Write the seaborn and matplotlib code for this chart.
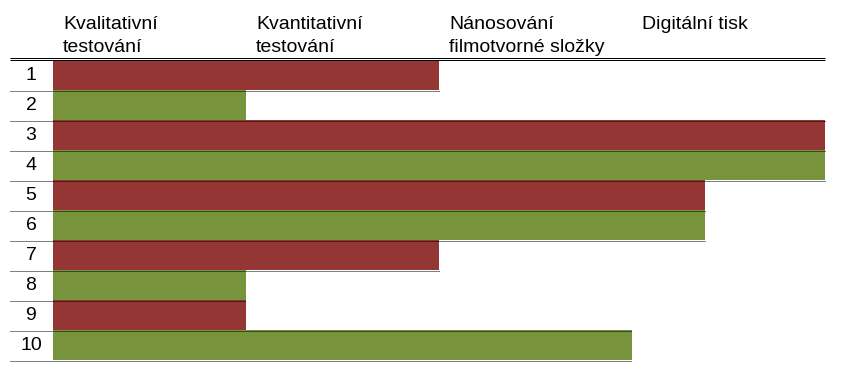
import matplotlib
matplotlib.use("Agg")
import matplotlib.pyplot as plt
import seaborn as sns
import pandas as pd

# ---- data ----
rows = ["1", "2", "3", "4", "5", "6", "7", "8", "9", "10"]
values = [2, 1, 4, 4, 3.38, 3.38, 2, 1, 1, 3]
row_colors = ["#943634", "#77933C", "#943634", "#77933C", "#943634",
              "#77933C", "#943634", "#77933C", "#943634", "#77933C"]
headers = ["Kvalitativní\ntestování", "Kvantitativní\ntestování",
           "Nánosování\nfilmotvorné složky", "Digitální tisk"]

sns.set_style("white")
plt.rcParams["font.family"] = ["Liberation Sans", "DejaVu Sans"]

W, H = 842, 374
fig = plt.figure(figsize=(W / 100, H / 100), dpi=100)
left_px, right_px, top_px, bot_px = 53, 825, 60, 360
ax = fig.add_axes([left_px / W, 1 - bot_px / H,
                   (right_px - left_px) / W, (bot_px - top_px) / H])

df = pd.DataFrame({"row": rows, "value": values})
sns.barplot(data=df, x="value", y="row", hue="row", palette=row_colors,
            orient="h", width=1.0, saturation=1, legend=False,
            linewidth=0, edgecolor="none", ax=ax)

ax.set_xlim(0, 4)
ax.set_ylim(len(rows) - 0.5, -0.5)
for s in ax.spines.values():
    s.set_visible(False)
ax.set_xticks([])
ax.set_yticks([])
ax.set_xlabel("")
ax.set_ylabel("")

px_per_unit = (right_px - left_px) / 4.0
x_start = (10 - left_px) / px_per_unit
x_num = (31 - left_px) / px_per_unit
row_px = (bot_px - top_px) / len(rows)
half_px = 0.5 / row_px

# row numbers
for i, r in enumerate(rows):
    ax.text(x_num, i, r, ha="center", va="center", fontsize=14,
            color="black", clip_on=False)

# dotted row separators
for i in range(len(rows)):
    nxt = values[i + 1] if i + 1 < len(rows) else 0
    xend = max(values[i], nxt)
    yy = i + 0.5 + half_px
    ax.plot([x_start, xend], [yy, yy], color="black", lw=0.72,
            linestyle=(0, (1, 1)), clip_on=False, zorder=5,
            dash_capstyle="butt")

# double header line
axh = bot_px - top_px
for ypx in (57.5, 59.5):
    ya = 1 + (top_px - ypx) / axh
    ax.plot([x_start, 4], [ya, ya], color="black", lw=0.72,
            transform=ax.get_xaxis_transform(), clip_on=False,
            solid_capstyle="butt")

# headers
trans = ax.get_xaxis_transform()
baselines = [29, 52.5]
for j, h in enumerate(headers):
    for k, line in enumerate(h.split("\n")):
        ya = 1 + (top_px - baselines[k]) / axh
        ax.text(j + 0.052, ya, line, transform=trans, ha="left",
                va="baseline", fontsize=14, color="black", clip_on=False)

fig.savefig("out.png", dpi=100)
